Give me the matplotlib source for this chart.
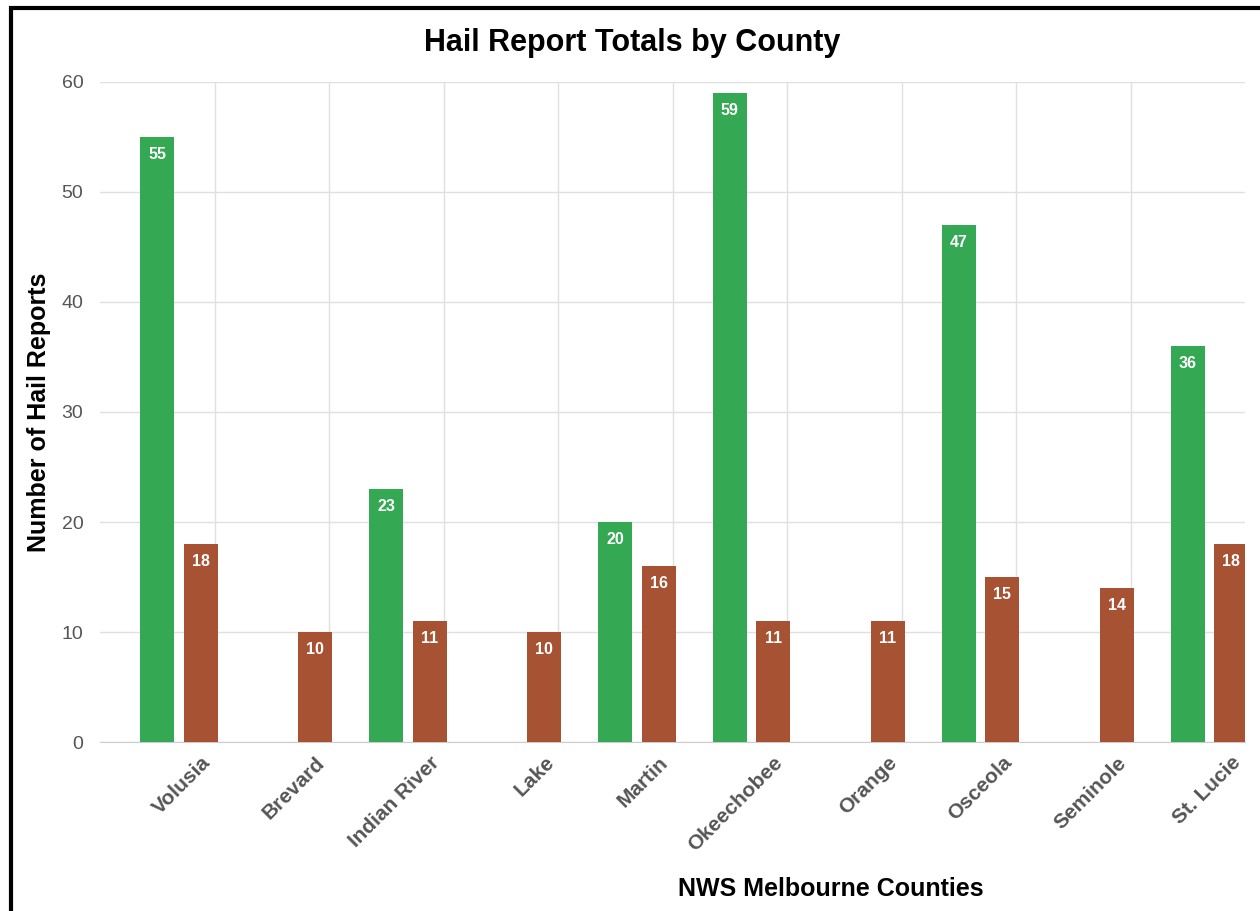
import matplotlib.pyplot as plt
from matplotlib.patches import Rectangle
import numpy as np

counties = ["Volusia", "Brevard", "Indian River", "Lake", "Martin",
            "Okeechobee", "Orange", "Osceola", "Seminole", "St. Lucie"]
green_vals = [55, 0, 23, 0, 20, 59, 0, 47, 0, 36]
brown_vals = [18, 10, 11, 10, 16, 11, 11, 15, 14, 18]

GREEN = "#34a853"
BROWN = "#a65233"
FONT = ["Liberation Sans", "DejaVu Sans"]

plt.rcParams["font.family"] = FONT

fig = plt.figure(figsize=(12.6, 9.11), dpi=100)
ax = fig.add_axes([0.0794, 0.1855, 0.9087, 0.7245])

x = np.arange(len(counties))
offset = 0.38
w = 0.3

gb = ax.bar(x, green_vals, width=w, color=GREEN, zorder=3)
bb = ax.bar(x + offset, brown_vals, width=w, color=BROWN, zorder=3)

for bars, vals in ((gb, green_vals), (bb, brown_vals)):
    for rect, v in zip(bars, vals):
        if v <= 0:
            continue
        ax.text(rect.get_x() + rect.get_width() / 2, v - 1.6, str(v),
                ha="center", va="center", color="white", fontsize=11.5,
                fontweight="bold", zorder=4)

ax.set_xlim(-0.5, len(counties) - 0.5)
ax.set_ylim(0, 60)
ax.set_yticks(range(0, 61, 10))
ax.set_xticks(x + offset)
ax.set_xticklabels(counties, rotation=45, ha="right", rotation_mode="anchor",
                   fontsize=15, fontweight="bold", color="#555555")
ax.set_xticks(x[:-1] + 0.5, minor=True)
ax.tick_params(axis="x", which="both", length=0, pad=8)
ax.tick_params(axis="y", length=0, labelsize=14, labelcolor="#555555", pad=12)

ax.grid(axis="y", color="#e0e0e0", linewidth=1, zorder=0)
ax.grid(axis="x", which="minor", color="#e0e0e0", linewidth=1, zorder=0)
ax.grid(axis="x", which="major", visible=False)

for s in ("top", "right", "left"):
    ax.spines[s].set_visible(False)
ax.spines["bottom"].set_color("#cccccc")

ax.set_ylabel("Number of Hail Reports", fontsize=18, fontweight="bold")
ax.yaxis.set_label_coords(-0.043, 0.5)
ax.set_xlabel("NWS Melbourne Counties", fontsize=18, fontweight="bold")
ax.xaxis.set_label_coords(0.638, -0.205)

fig.text(0.502, 0.953, "Hail Report Totals by County", ha="center",
         va="center", fontsize=22, fontweight="bold")

fig.patches.append(Rectangle((0.009, -0.05), 1.2, 1.041,
                             transform=fig.transFigure, fill=False,
                             edgecolor="black", linewidth=3))

fig.savefig("out.png", dpi=100)
